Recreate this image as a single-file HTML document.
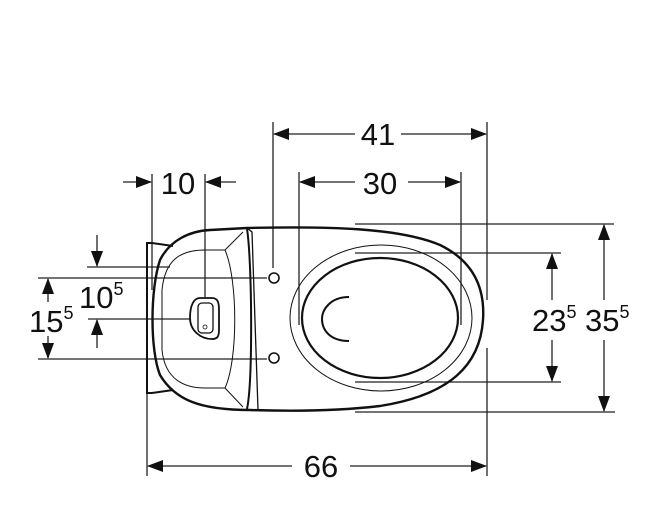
<!DOCTYPE html>
<html><head><style>body{margin:0;background:#fff}svg{display:block}text{font-family:"Liberation Sans",Arial,sans-serif;fill:#111}</style></head>
<body>
<svg width="653" height="515" viewBox="0 0 653 515" xmlns="http://www.w3.org/2000/svg">
<defs>
<marker id="a" markerWidth="16" markerHeight="12" refX="15" refY="6" orient="auto" markerUnits="userSpaceOnUse"><path d="M0,0 L16,6 L0,12 Z" fill="#111"/></marker>
</defs>
<g stroke="#222" stroke-width="1.3" fill="none">
<line x1="152" y1="174" x2="152" y2="290"/>
<line x1="205" y1="174" x2="205" y2="297"/>
<line x1="273" y1="122" x2="273" y2="268"/>
<line x1="299" y1="172" x2="299" y2="325"/>
<line x1="461" y1="172" x2="461" y2="325"/>
<line x1="487" y1="122" x2="487" y2="300"/>
<line x1="487" y1="348" x2="487" y2="476"/>
<line x1="147" y1="392" x2="147" y2="476"/>
<line x1="355" y1="224" x2="614" y2="224"/>
<line x1="355" y1="253" x2="561" y2="253"/>
<line x1="355" y1="382" x2="561" y2="382"/>
<line x1="355" y1="412" x2="615" y2="412"/>
<line x1="87" y1="267" x2="170" y2="267"/>
<line x1="38" y1="278" x2="267" y2="278"/>
<line x1="88" y1="319" x2="190" y2="319"/>
<line x1="38" y1="359" x2="267" y2="359"/>
<line x1="355" y1="134" x2="274" y2="134" marker-end="url(#a)"/>
<line x1="401" y1="134" x2="486" y2="134" marker-end="url(#a)"/>
<line x1="355" y1="182" x2="300" y2="182" marker-end="url(#a)"/>
<line x1="408" y1="182" x2="460" y2="182" marker-end="url(#a)"/>
<line x1="123" y1="182" x2="151" y2="182" marker-end="url(#a)"/>
<line x1="236" y1="182" x2="206" y2="182" marker-end="url(#a)"/>
<line x1="292" y1="466" x2="148" y2="466" marker-end="url(#a)"/>
<line x1="350" y1="466" x2="486" y2="466" marker-end="url(#a)"/>
<line x1="552" y1="300" x2="552" y2="254" marker-end="url(#a)"/>
<line x1="552" y1="340" x2="552" y2="381" marker-end="url(#a)"/>
<line x1="604" y1="300" x2="604" y2="225" marker-end="url(#a)"/>
<line x1="604" y1="340" x2="604" y2="411" marker-end="url(#a)"/>
<line x1="48" y1="302" x2="48" y2="279" marker-end="url(#a)"/>
<line x1="48" y1="336" x2="48" y2="358" marker-end="url(#a)"/>
<line x1="97" y1="235" x2="97" y2="266" marker-end="url(#a)"/>
<line x1="97" y1="348" x2="97" y2="320" marker-end="url(#a)"/>
</g>
<g stroke="#111" fill="none">
<path d="M152,393 L147,393 L147,243 L152,243 L173,246" stroke-width="2"/>
<path d="M152,393 L173,390" stroke-width="2"/>
<path d="M247,228 C330,226 400,228 440,245 C475,262 485,290 483,320 C480,365 450,395 380,406 C330,412 280,411 250,410 C200,410 175,400 160,375 C150,350 150,290 160,260 C170,240 190,231 210,230 Z" stroke-width="2.4"/>
<path d="M247,228 L252,232 L258,410" stroke-width="1.3"/>
<path d="M247,229 C252,260 253,380 247,409" stroke-width="2"/>
<path d="M243,232 L225,250 L205,250 C180,250 165,260 162,290 L162,350 C165,380 185,388 205,388 L225,388 L243,407" stroke-width="1"/>
<path d="M225,250 C238,280 238,360 225,388" stroke-width="1"/>
<ellipse cx="381" cy="318" rx="91" ry="73" stroke-width="1"/>
<ellipse cx="380" cy="318" rx="78" ry="60" stroke-width="2.2"/>
<path d="M349,297 C330,297 322,310 322,319 C322,330 330,341 349,341" stroke-width="2"/>
<circle cx="274" cy="278" r="5" stroke-width="1.6"/>
<circle cx="274" cy="358" r="5" stroke-width="1.6"/>
<path d="M200,298 L212,298 C218,298 219,303 219,310 L219,330 C219,337 217,339 212,339 C200,339 190,330 190,318 C190,305 194,298 200,298 Z" stroke-width="1.8"/>
<rect x="198" y="303" width="15" height="30" rx="4" stroke-width="1.3"/>
<circle cx="205" cy="327" r="2" stroke-width="0.8"/>
</g>
<g font-size="31">
<text x="378" y="145" text-anchor="middle">41</text>
<text x="380" y="194" text-anchor="middle">30</text>
<text x="178" y="194" text-anchor="middle">10</text>
<text x="321" y="477" text-anchor="middle">66</text>
<text x="532" y="331">23<tspan font-size="18" dy="-13">5</tspan></text>
<text x="585" y="331">35<tspan font-size="18" dy="-13">5</tspan></text>
<text x="29" y="332">15<tspan font-size="18" dy="-13">5</tspan></text>
<text x="79" y="308">10<tspan font-size="18" dy="-13">5</tspan></text>
</g>
</svg>
</body></html>
